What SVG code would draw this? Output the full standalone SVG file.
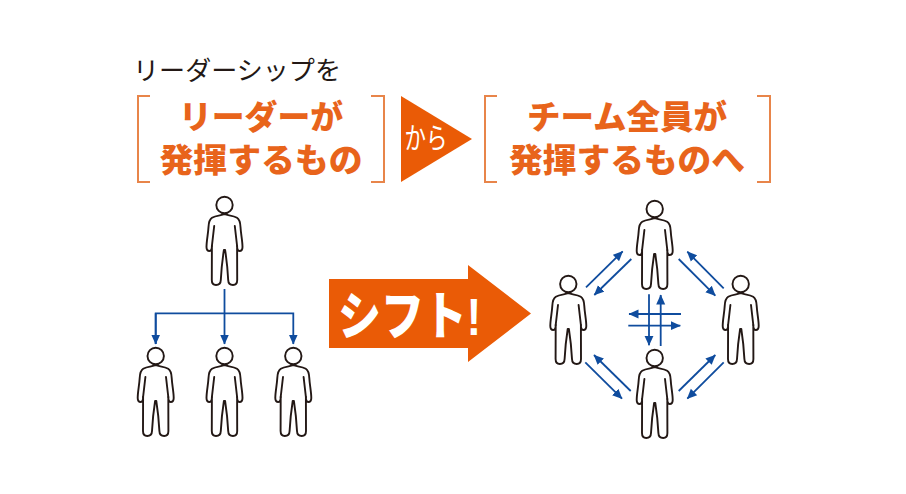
<svg xmlns="http://www.w3.org/2000/svg" width="906" height="494" viewBox="0 0 906 494">
<style>
.t{font-family:"Liberation Sans","Noto Sans CJK JP",sans-serif}
.h{font-weight:900;font-size:33px;fill:#E8641B;text-anchor:middle}
.b{fill:none;stroke:#E8854A;stroke-width:2}
.c{fill:none;stroke:#0F4C9E;stroke-width:1.8}
.p{fill:#fff;stroke:#231815;stroke-width:1.9;stroke-linejoin:round;stroke-linecap:round}
.o{fill:#EA5B06}
</style>
<defs>
<marker id="a" markerUnits="userSpaceOnUse" markerWidth="11" markerHeight="10" refX="9.5" refY="5" orient="auto"><path d="M0,0.500L10,5L0,9.500z" fill="#0F4C9E"/></marker>
<g id="person" class="p">
<circle cx="0" cy="0" r="8.200"/>
<path d="M0,9.200C-4,10.500-9,10.600-12.500,12.800C-15.500,14.600-15.800,18-16,22C-16.400,29-18,36-18,42C-18,45-16.500,46-15,46C-13,46-12.600,43.500-12.600,41C-12.600,53-12.700,65-12.700,75C-12.700,78.500-11.500,80-8.500,80C-5.500,80-3.800,79-3.700,75C-3.200,65-2,54-0.600,45H0.600C2,54,3.200,65,3.700,75C3.800,79,5.500,80,8.500,80C11.500,80,12.700,78.500,12.700,75C12.700,65,12.600,53,12.600,41C12.600,43.500,13,46,15,46C16.500,46,18,45,18,42C18,36,16.400,29,16,22C15.800,18,15.500,14.600,12.500,12.800C9,10.600,4,10.500,0,9.200z"/>
<path d="M-10.300,21L-12.600,41M10.300,21L12.600,41" fill="none"/>
</g>
</defs>
<g id="title"><text class="t" x="133" y="80" font-size="25.600" fill="#231815" textLength="208" lengthAdjust="spacingAndGlyphs">リーダーシップを</text></g>
<g id="box-left">
<path class="b" d="M150,96H138V182H150M371,96H384V182H371"/>
<text class="t h" x="261" y="129" textLength="164" lengthAdjust="spacingAndGlyphs">リーダーが</text>
<text class="t h" x="261" y="172" textLength="203" lengthAdjust="spacingAndGlyphs">発揮するもの</text>
</g>
<g id="kara">
<path class="o" d="M401,96L472,139L401,182z"/>
<text class="t" x="426" y="149" font-size="29" fill="#fff" text-anchor="middle" textLength="43" lengthAdjust="spacingAndGlyphs">から</text>
</g>
<g id="box-right">
<path class="b" d="M497,96H485V182H497M757,96H770V182H757"/>
<text class="t h" x="627" y="129" textLength="200" lengthAdjust="spacingAndGlyphs">チーム全員が</text>
<text class="t h" x="627" y="172" textLength="236" lengthAdjust="spacingAndGlyphs">発揮するものへ</text>
</g>
<g id="shift">
<path class="o" d="M329,279H468V265L531,313.500L468,362V348H329z"/>
<text class="t" x="338" y="335" font-size="52" font-weight="900" fill="#fff" textLength="143" lengthAdjust="spacingAndGlyphs">シフト!</text>
</g>
<g id="leader"><use href="#person" x="224.500" y="205"/></g>
<g id="member-1"><use href="#person" x="155.700" y="356"/></g>
<g id="member-2"><use href="#person" x="224.500" y="356"/></g>
<g id="member-3"><use href="#person" x="293.300" y="356"/></g>
<g id="team-top"><use href="#person" x="654.700" y="209"/></g>
<g id="team-left"><use href="#person" x="568.300" y="284"/></g>
<g id="team-right"><use href="#person" x="740.700" y="284"/></g>
<g id="team-bottom"><use href="#person" x="654.700" y="358"/></g>
<g id="connectors" class="c">
<path d="M224.500,289V344" marker-end="url(#a)"/>
<path d="M155.700,344V313.300H293.300V344" marker-end="url(#a)"/>
<path d="M155.700,313.300V344" marker-end="url(#a)"/>
<path d="M586,287.300L622.700,251.300" marker-end="url(#a)"/>
<path d="M631.300,259L594.300,295" marker-end="url(#a)"/>
<path d="M678.700,259L715.300,295.700" marker-end="url(#a)"/>
<path d="M723.700,288.300L687.300,251.700" marker-end="url(#a)"/>
<path d="M585.300,362.300L622,398.700" marker-end="url(#a)"/>
<path d="M630.700,391L594,355" marker-end="url(#a)"/>
<path d="M678.700,391L715.300,355" marker-end="url(#a)"/>
<path d="M723.700,362.300L687.300,398.700" marker-end="url(#a)"/>
<path d="M649,294.300V345.300" marker-end="url(#a)"/>
<path d="M660.700,346V295" marker-end="url(#a)"/>
<path d="M681,314H629" marker-end="url(#a)"/>
<path d="M628.300,325.700H680.300" marker-end="url(#a)"/>
</g>
</svg>
